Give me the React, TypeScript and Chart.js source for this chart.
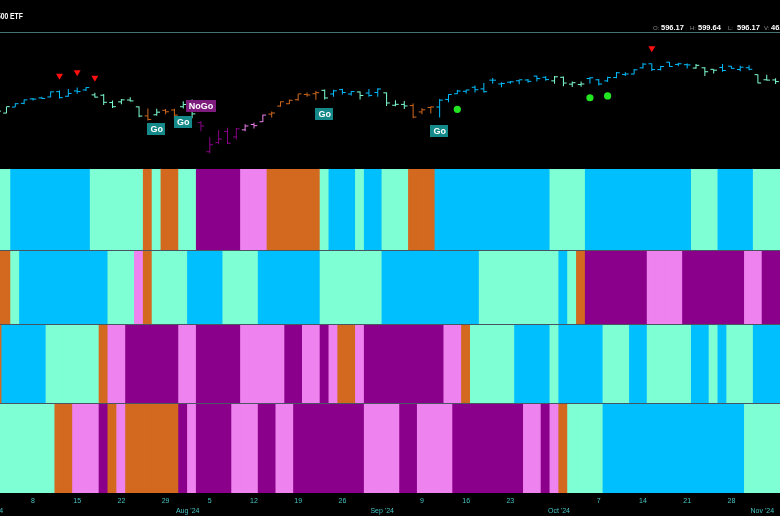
import React, { useEffect, useRef } from 'react';
import { Chart, registerables } from 'chart.js';

Chart.register(...registerables);

// ---- Trading days (Jul 1 2024 .. Nov 4 2024) ----
const dates = [
  'Jul 1', 'Jul 2', 'Jul 3', 'Jul 5',
  'Jul 8', 'Jul 9', 'Jul 10', 'Jul 11', 'Jul 12',
  'Jul 15', 'Jul 16', 'Jul 17', 'Jul 18', 'Jul 19',
  'Jul 22', 'Jul 23', 'Jul 24', 'Jul 25', 'Jul 26',
  'Jul 29', 'Jul 30', 'Jul 31', 'Aug 1', 'Aug 2',
  'Aug 5', 'Aug 6', 'Aug 7', 'Aug 8', 'Aug 9',
  'Aug 12', 'Aug 13', 'Aug 14', 'Aug 15', 'Aug 16',
  'Aug 19', 'Aug 20', 'Aug 21', 'Aug 22', 'Aug 23',
  'Aug 26', 'Aug 27', 'Aug 28', 'Aug 29', 'Aug 30',
  'Sep 3', 'Sep 4', 'Sep 5', 'Sep 6',
  'Sep 9', 'Sep 10', 'Sep 11', 'Sep 12', 'Sep 13',
  'Sep 16', 'Sep 17', 'Sep 18', 'Sep 19', 'Sep 20',
  'Sep 23', 'Sep 24', 'Sep 25', 'Sep 26', 'Sep 27',
  'Sep 30', 'Oct 1', 'Oct 2', 'Oct 3', 'Oct 4',
  'Oct 7', 'Oct 8', 'Oct 9', 'Oct 10', 'Oct 11',
  'Oct 14', 'Oct 15', 'Oct 16', 'Oct 17', 'Oct 18',
  'Oct 21', 'Oct 22', 'Oct 23', 'Oct 24', 'Oct 25',
  'Oct 28', 'Oct 29', 'Oct 30', 'Oct 31', 'Nov 1',
  'Nov 4',
];

const openPx = [
  545.63, 543.70, 548.69, 551.77,
  555.44, 556.26, 557.07, 561.44, 557.63,
  562.03, 562.87, 558.80, 558.51, 552.42,
  553.00, 554.54, 548.86, 541.35, 542.28,
  546.02, 546.26, 548.98, 552.57, 535.75,
  511.64, 519.22, 528.47, 523.91, 529.81,
  534.21, 536.53, 542.85, 549.50, 551.42,
  554.73, 559.15, 559.77, 562.56, 559.53,
  563.18, 559.49, 561.21, 560.31, 560.77,
  560.47, 550.20, 550.89, 549.94,
  544.65, 548.36, 548.70, 555.01, 559.71,
  561.74, 565.10, 563.74, 571.01, 567.84,
  569.34, 570.48, 571.14, 574.38, 573.39,
  570.42, 573.40, 567.71, 567.36, 572.35,
  571.30, 570.42, 573.16, 575.77, 576.05,
  581.22, 584.59, 579.78, 585.91, 584.07,
  583.85, 581.05, 581.26, 579.98, 581.51,
  582.58, 579.85, 581.29, 575.56, 571.32,
  571.18,
];

const highPx = [
  545.88, 549.01, 551.83, 555.05,
  556.25, 557.18, 561.67, 562.33, 563.67,
  564.84, 565.16, 560.51, 559.52, 554.08,
  555.27, 556.74, 549.17, 547.46, 547.19,
  547.05, 547.34, 553.50, 554.87, 536.99,
  523.58, 529.75, 531.59, 531.29, 534.51,
  535.73, 542.28, 544.96, 553.36, 555.02,
  559.61, 560.84, 562.11, 563.18, 563.09,
  563.91, 562.06, 561.65, 563.68, 564.20,
  560.81, 554.43, 553.80, 551.60,
  547.71, 549.15, 555.36, 559.40, 563.03,
  563.11, 566.58, 568.69, 572.88, 569.31,
  570.33, 571.36, 571.89, 574.71, 574.22,
  574.38, 574.06, 569.90, 569.80, 573.36,
  571.96, 573.78, 577.71, 577.58, 580.33,
  585.27, 584.90, 582.83, 586.12, 585.39,
  584.85, 584.50, 581.71, 580.06, 584.46,
  582.71, 582.91, 583.32, 575.63, 575.55,
  572.50,
];

const lowPx = [
  542.52, 543.65, 548.65, 551.12,
  554.19, 555.52, 556.77, 555.83, 557.15,
  559.63, 562.10, 556.61, 550.43, 547.91,
  551.02, 553.28, 540.29, 537.45, 541.49,
  542.72, 538.52, 547.58, 539.43, 528.60,
  510.27, 517.87, 518.05, 521.84, 528.56,
  530.95, 536.28, 540.12, 548.88, 551.26,
  553.86, 557.33, 554.73, 554.98, 557.29,
  559.05, 558.32, 555.04, 557.18, 557.14,
  549.51, 549.46, 547.10, 539.44,
  542.68, 543.38, 539.96, 552.74, 559.45,
  559.90, 560.79, 560.83, 568.08, 565.17,
  568.10, 567.60, 568.91, 569.90, 570.42,
  568.08, 566.00, 565.27, 565.49, 568.10,
  566.63, 569.53, 572.55, 574.49, 575.91,
  580.73, 578.54, 578.96, 582.16, 582.58,
  580.60, 580.38, 574.42, 576.57, 578.08,
  580.52, 578.43, 579.29, 568.44, 570.62,
  567.89,
];

const closePx = [
  545.34, 549.01, 551.46, 554.64,
  555.28, 555.82, 561.32, 556.48, 559.99,
  561.53, 564.86, 556.94, 552.66, 548.99,
  554.65, 553.78, 541.23, 538.41, 544.44,
  544.76, 542.00, 550.81, 543.01, 532.90,
  517.38, 522.15, 518.66, 530.65, 532.99,
  533.27, 542.04, 543.75, 553.07, 554.31,
  559.61, 558.70, 560.62, 556.22, 562.13,
  560.79, 561.56, 558.30, 558.35, 563.68,
  552.08, 550.95, 549.61, 540.36,
  546.41, 548.79, 554.42, 559.09, 562.01,
  562.84, 563.07, 561.40, 570.98, 568.25,
  569.67, 571.30, 570.04, 572.30, 571.47,
  573.76, 568.62, 568.86, 567.82, 572.98,
  567.80, 573.17, 577.14, 576.13, 579.58,
  584.32, 579.78, 582.30, 582.35, 584.59,
  583.63, 583.32, 577.99, 579.24, 579.04,
  580.83, 581.77, 580.01, 568.64, 571.04,
  569.81,
];

// ---- State bands (A aqua, B blue, O amber, V pink, P purple), one code per day ----
const band1 = 'AABBBBBBBBBAAAAAAOAOOAAPPPPPVVVOOOOOOABBBABBAAAOOOBBBBBBBBBBBBBAAAABBBBBBBBBBBBAAABBBBAAA'.split('');
const band2 = 'OOABBBBBBBBBBAAAVOAAAABBBBAAAABBBBBBBAAAAAAABBBBBBBBBBBAAAAAAAAABAOPPPPPPPVVVVPPPPPPPVVPP'.split('');
const band3 = 'OBBBBBAAAAAAOVVPPPPPPVVPPPPPVVVVVPPVVPVOOVPPPPPPPPPVVOAAAAABBBBABBBBBAAABBAAAAABBABAAABBB'.split('');
const band4 = 'AAAAAAAOOVVVPOVOOOOOOPVPPPPVVVPPVVPPPPPPPPVVVVPPVVVVPPPPPPPPVVPVOAAAABBBBBBBBBBBBBBBBAAAA'.split('');

// ---- Signals ----
const sellIdx = [7, 9, 11, 74];
const sellPrice = [574.7, 577.5, 573.0, 597.5];
const buyIdx = [52, 67, 69];
const buyPrice = [546.8, 556.4, 557.9];
const labelIdx = [18, 21, 23, 37, 50];
const labelText = ['Go', 'Go', 'NoGo', 'Go', 'Go'];
const labelPrice = [530.5, 535.9, 549.7, 542.9, 528.8];

// ---- Axis ticks ----
const dayTickIndex = [4, 9, 14, 19, 24, 29, 34, 39, 48, 53, 58, 68, 73, 78, 83];
const dayTickText = ['8', '15', '22', '29', '5', '12', '19', '26', '9', '16', '23', '7', '14', '21', '28'];
const monthTickIndex = [0, 22, 44, 64, 87];
const monthTickText = ["Jul '24", "Aug '24", "Sep '24", "Oct '24", "Nov '24"];

const STATE_COLORS: Record<string, string> = {
  A: '#7FFFD4',
  B: '#00BFFF',
  O: '#D2691E',
  P: '#8B008B',
  V: '#EE82EE',
};

const SEP = '#4a5562';
const TICK_COLOR = '#45c4c4';
const X_MIN = 0.27;
const X_MAX = 88.5;

// combined axis ticks: day numbers on line 1, month names on line 2
const axisTicks: { value: number; label: string | string[] }[] = [
  ...dayTickIndex.map((v, k) => ({ value: v, label: dayTickText[k] })),
  ...monthTickIndex.map((v, k) => ({ value: v - 0.5, label: ['', monthTickText[k]] })),
].sort((a, b) => a.value - b.value);

const labelPlugin = {
  id: 'gngLabels',
  afterDatasetsDraw(chart: any) {
    const xs = chart.scales.x;
    const ys = chart.scales.yp;
    const ctx = chart.ctx;
    ctx.save();
    ctx.font = 'bold 9px "Liberation Sans", Arial, sans-serif';
    ctx.textAlign = 'center';
    ctx.textBaseline = 'middle';
    labelIdx.forEach((ix, k) => {
      const px = xs.getPixelForValue(ix);
      const py = ys.getPixelForValue(labelPrice[k]);
      const text = labelText[k];
      const w = ctx.measureText(text).width + 6;
      const h = 12;
      ctx.fillStyle = text === 'Go' ? '#15898a' : '#7d1c7d';
      ctx.fillRect(Math.round(px - w / 2), Math.round(py - h / 2), Math.round(w), h);
      ctx.fillStyle = '#ffffff';
      ctx.fillText(text, px, py + 0.5);
    });
    ctx.restore();
  },
};

function bandScale(weight: number, stackWeight: number, hideTop: boolean, hideBottom: boolean) {
  return {
    type: 'linear',
    position: 'left',
    stack: 'v',
    stackWeight,
    weight,
    min: 0,
    max: 1,
    ticks: { display: false, stepSize: 1 },
    border: { display: false },
    grid: {
      drawTicks: false,
      z: 1,
      lineWidth: 1,
      color: (c: any) => {
        const v = c.tick ? c.tick.value : null;
        if (hideTop && v === 1) return 'rgba(0,0,0,0)';
        if (hideBottom && v === 0) return 'rgba(0,0,0,0)';
        return SEP;
      },
    },
  };
}

export default function App() {
  const ref = useRef<HTMLCanvasElement>(null);

  useEffect(() => {
    const canvas = ref.current;
    if (!canvas) return;
    const idx = dates.map((_, i) => i);
    const trendColors = band1.map((s) => STATE_COLORS[s]);

    const bandDataset = (codes: string[], axis: string) => ({
      type: 'bar',
      yAxisID: axis,
      data: idx.map((i) => ({ x: i, y: [0, 1] })),
      backgroundColor: codes.map((s) => STATE_COLORS[s]),
      borderWidth: 0,
      barPercentage: 1,
      categoryPercentage: 1,
      inflateAmount: 0.6,
      grouped: false,
    });

    const chart = new Chart(canvas, {
      type: 'bar',
      data: {
        datasets: [
          {
            type: 'scatter',
            yAxisID: 'yp',
            data: sellIdx.map((ix, k) => ({ x: ix, y: sellPrice[k] })),
            pointStyle: 'triangle',
            rotation: 180,
            pointRadius: 4,
            backgroundColor: '#ff1010',
            borderColor: '#ff1010',
            borderWidth: 0,
          },
          {
            type: 'scatter',
            yAxisID: 'yp',
            data: buyIdx.map((ix, k) => ({ x: ix, y: buyPrice[k] })),
            pointStyle: 'circle',
            pointRadius: 3.6,
            backgroundColor: '#22e622',
            borderColor: '#22e622',
            borderWidth: 0,
          },
          {
            type: 'scatter',
            yAxisID: 'yp',
            data: idx.map((i) => ({ x: i - 0.19, y: openPx[i] })),
            pointStyle: 'line',
            pointRadius: 1.6,
            pointBorderWidth: 1,
            pointBorderColor: trendColors,
            pointBackgroundColor: trendColors,
          },
          {
            type: 'scatter',
            yAxisID: 'yp',
            data: idx.map((i) => ({ x: i + 0.19, y: closePx[i] })),
            pointStyle: 'line',
            pointRadius: 1.6,
            pointBorderWidth: 1,
            pointBorderColor: trendColors,
            pointBackgroundColor: trendColors,
          },
          {
            type: 'bar',
            yAxisID: 'yp',
            data: idx.map((i) => ({ x: i, y: [lowPx[i], highPx[i]] })),
            backgroundColor: trendColors,
            borderWidth: 0,
            barThickness: 1,
            inflateAmount: 0,
            grouped: false,
          },
          bandDataset(band1, 'b1'),
          bandDataset(band2, 'b2'),
          bandDataset(band3, 'b3'),
          bandDataset(band4, 'b4'),
        ],
      } as any,
      options: {
        responsive: false,
        maintainAspectRatio: false,
        devicePixelRatio: 1,
        animation: false,
        events: [],
        layout: { autoPadding: false, padding: { top: 34, bottom: -2.7, left: 0, right: 0 } },
        plugins: {
          legend: { display: false },
          tooltip: { enabled: false },
          title: { display: false },
        },
        scales: {
          x: {
            type: 'linear',
            position: 'bottom',
            min: X_MIN,
            max: X_MAX,
            offset: false,
            grid: { display: false, offset: false, drawTicks: false },
            border: { display: false },
            afterBuildTicks: (s: any) => {
              s.ticks = axisTicks.map((t) => ({ value: t.value }));
            },
            afterFit: (s: any) => {
              s.paddingLeft = 0;
              s.paddingRight = 0;
            },
            ticks: {
              autoSkip: false,
              maxRotation: 0,
              minRotation: 0,
              padding: 3.15,
              color: TICK_COLOR,
              font: { size: 7, lineHeight: 1.386, family: '"Liberation Sans", Arial, sans-serif' },
              callback: (_v: any, i: number) => axisTicks[i].label,
            },
          },
          yp: {
            type: 'linear',
            position: 'left',
            stack: 'v',
            stackWeight: 135,
            weight: 5,
            min: 497.3,
            max: 609.3,
            ticks: { display: false },
            grid: { display: false, drawTicks: false },
            border: { display: false },
          },
          b1: bandScale(4, 82, true, false),
          b2: bandScale(3, 74, false, false),
          b3: bandScale(2, 79, false, false),
          b4: bandScale(1, 89, false, true),
        },
      } as any,
      plugins: [labelPlugin],
    });
    return () => chart.destroy();
  }, []);

  const hdrLabel: React.CSSProperties = {
    position: 'absolute',
    top: 23.5,
    color: '#8a8a8a',
    fontSize: 6,
    fontFamily: '"Liberation Sans", Arial, sans-serif',
    lineHeight: '8px',
    whiteSpace: 'nowrap',
  };
  const hdrValue: React.CSSProperties = {
    position: 'absolute',
    top: 22.5,
    color: '#ffffff',
    fontSize: 7.5,
    fontWeight: 'bold',
    fontFamily: '"Liberation Sans", Arial, sans-serif',
    lineHeight: '9px',
    whiteSpace: 'nowrap',
  };

  return (
    <div
      style={{
        position: 'fixed',
        left: 0,
        top: 0,
        width: 780,
        height: 516,
        background: '#000',
        overflow: 'hidden',
      }}
    >
      <canvas
        ref={ref}
        width={780}
        height={516}
        style={{ position: 'absolute', left: 0, top: 0, width: 780, height: 516 }}
      />
      <div
        style={{
          position: 'absolute',
          right: 757,
          top: 10,
          color: '#ffffff',
          fontSize: 9,
          fontWeight: 'bold',
          lineHeight: '12px',
          fontFamily: '"Liberation Sans", Arial, sans-serif',
          whiteSpace: 'nowrap',
          transform: 'scaleX(0.75)',
          transformOrigin: 'right center',
        }}
      >
        SPDR S&amp;P 500 ETF
      </div>
      <span style={{ ...hdrLabel, left: 653 }}>O:</span>
      <span style={{ ...hdrValue, left: 661 }}>596.17</span>
      <span style={{ ...hdrLabel, left: 690 }}>H:</span>
      <span style={{ ...hdrValue, left: 698 }}>599.64</span>
      <span style={{ ...hdrLabel, left: 728 }}>L:</span>
      <span style={{ ...hdrValue, left: 737 }}>596.17</span>
      <span style={{ ...hdrLabel, left: 764 }}>V:</span>
      <span style={{ ...hdrValue, left: 771 }}>46.83M</span>
      <div
        style={{
          position: 'absolute',
          left: 0,
          top: 32,
          width: 780,
          height: 1,
          background: '#467473',
        }}
      />
    </div>
  );
}
